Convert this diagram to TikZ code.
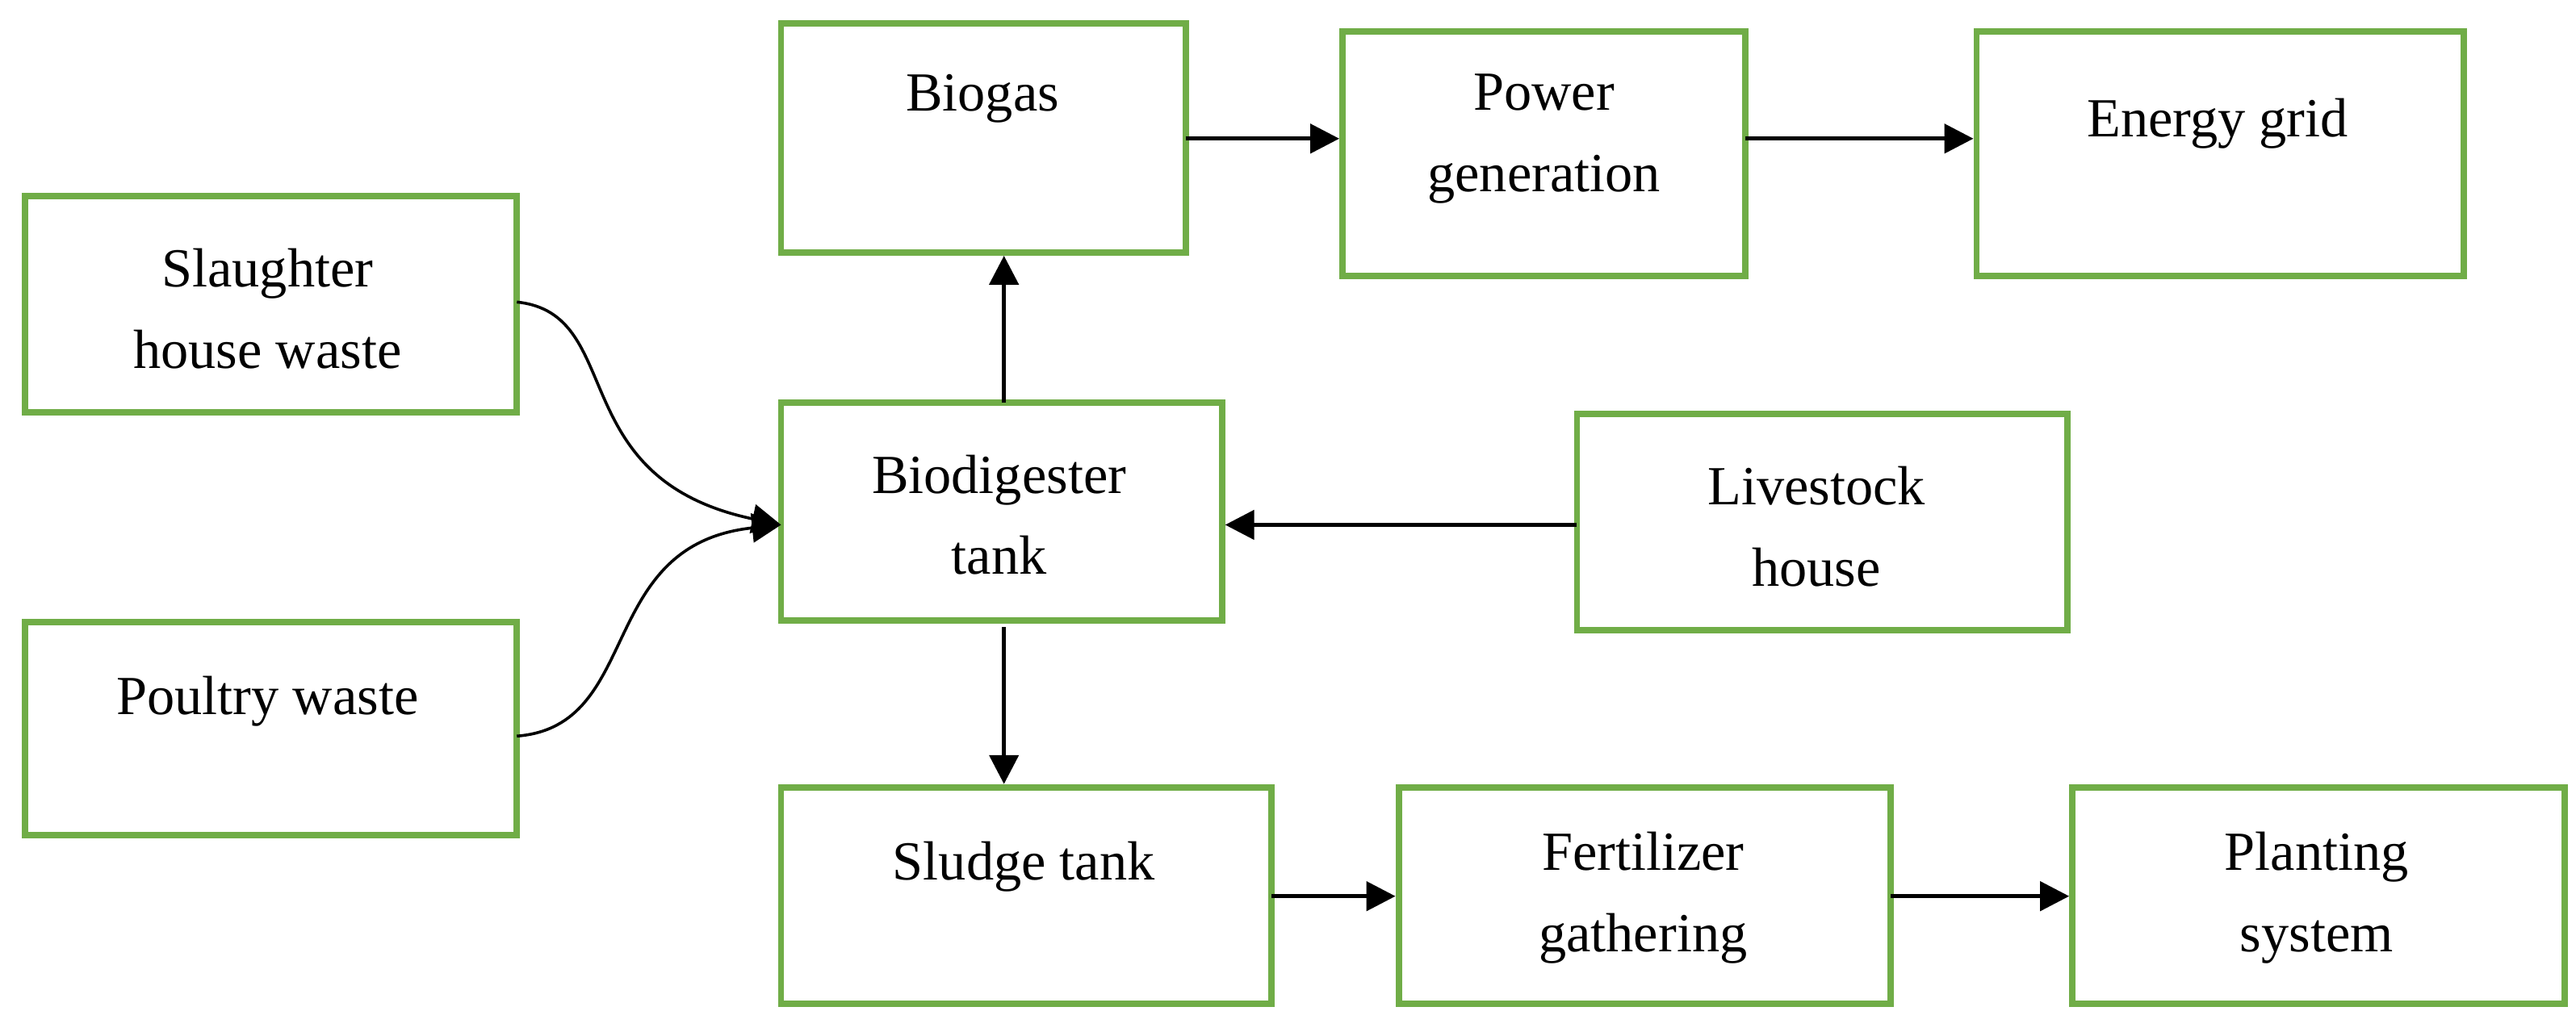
\documentclass[tikz,border=0pt]{standalone}
\usepackage{fontspec}
\setmainfont{Liberation Serif}
\usetikzlibrary{arrows.meta}
\begin{document}
\begin{tikzpicture}[x=0.01cm,y=-0.01cm,
  box/.style={draw={rgb,255:red,112;green,173;blue,71},line width=1.1pt,inner sep=0},
  lab/.style={font=\fontsize{9.5}{14}\selectfont,align=center},
  arr/.style={-{Triangle[length=5pt,width=5pt]},line width=0.7pt},
  cur/.style={-{Triangle[length=5pt,width=5pt]},line width=0.5pt}]
\useasboundingbox (0,0) rectangle (1560,625);
\newcommand{\bx}[5]{\node[box,minimum width={(#4-#2)*0.01cm},minimum height={(#5-#3)*0.01cm}] (#1) at ({(#2+#4)/2},{(#3+#5)/2}) {};}
\bx{bio}{473}{14}{718}{153}
\bx{pow}{813}{19}{1057}{167}
\bx{en}{1197}{19}{1492}{167}
\bx{sl}{15}{119}{313}{250}
\bx{po}{15}{377}{313}{506}
\bx{dig}{473}{244}{740}{376}
\bx{li}{955}{251}{1252}{382}
\bx{sg}{473}{477}{770}{608}
\bx{fe}{847}{477}{1145}{608}
\bx{pl}{1255}{477}{1553}{608}
\node[lab] (tbio) at (595,60) {Biogas};
\node[lab] (tpow) at (935,84) {Power\\generation};
\node[lab] (ten) at (1343,75) {Energy grid};
\node[lab] (tsl) at (162,187) {Slaughter\\house waste};
\node[lab] (tpo) at (162,425) {Poultry waste};
\node[lab] (tdig) at (605,312) {Biodigester\\tank};
\node[lab] (tli) at (1100,319) {Livestock\\house};
\node[lab] (tsg) at (620,525) {Sludge tank};
\node[lab] (tfe) at (995,544) {Fertilizer\\gathering};
\node[lab] (tpl) at (1403,544) {Planting\\system};
\coordinate (bioa) at (718,84);
\draw[arr] (bioa) -- (bioa-|pow.west);
\coordinate (powa) at (1057,84);
\draw[arr] (powa) -- (powa-|en.west);
\coordinate (up) at (608,244);
\draw[arr] (up) -- (up|-bio.south);
\coordinate (dn) at (608,380);
\draw[arr] (dn) -- (dn|-sg.north);
\coordinate (lia) at (955,318);
\draw[arr] (lia) -- (lia-|dig.east);
\coordinate (sga) at (770,543);
\draw[arr] (sga) -- (sga-|fe.west);
\coordinate (fea) at (1145,543);
\draw[arr] (fea) -- (fea-|pl.west);
\coordinate (sla) at (313,183);
\coordinate (poa) at (313,446);
\coordinate (din) at (473,318);
\draw[cur] (sla) .. controls (380,190) and (340,290) .. (din);
\draw[cur] (poa) .. controls (390,440) and (360,330) .. (din);
\end{tikzpicture}
\end{document}
